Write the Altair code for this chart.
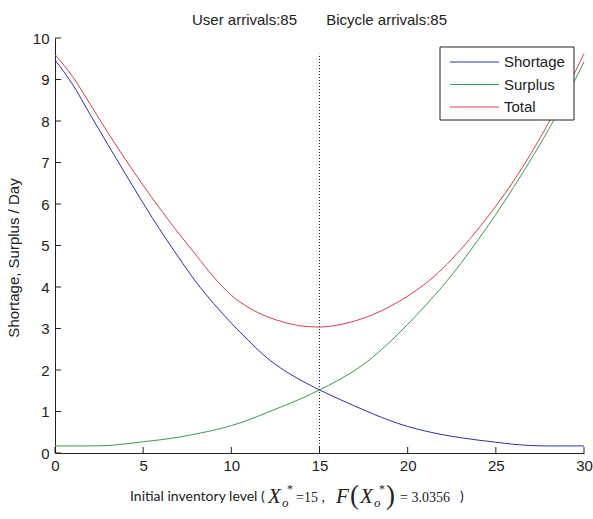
import altair as alt
import pandas as pd

# Initial inventory levels and the resulting daily shortage / surplus
inventory = list(range(31))
shortage = [9.47, 8.88, 8.15, 7.43, 6.72, 6.02, 5.35, 4.72, 4.12, 3.60, 3.13,
            2.70, 2.30, 1.99, 1.74, 1.52, 1.32, 1.13, 0.95, 0.78, 0.64,
            0.53, 0.44, 0.37, 0.31, 0.26, 0.21, 0.18, 0.17, 0.17, 0.17]
surplus = [0.17, 0.17, 0.17, 0.18, 0.22, 0.27, 0.32, 0.38, 0.46, 0.55, 0.66,
           0.80, 0.97, 1.14, 1.32, 1.52, 1.74, 1.99, 2.30, 2.68, 3.10,
           3.55, 4.03, 4.56, 5.14, 5.75, 6.40, 7.08, 7.80, 8.58, 9.43]
optimum_x = 15
optimum_f = 3.0356
total = [9.60, 9.07, 8.40, 7.72, 7.07, 6.45, 5.86, 5.30, 4.77, 4.24, 3.80,
         3.50, 3.29, 3.15, 3.06, optimum_f, 3.08, 3.18, 3.33, 3.53, 3.78,
         4.08, 4.45, 4.90, 5.40, 5.95, 6.55, 7.22, 7.96, 8.76, 9.62]

series_names = ["Shortage", "Surplus", "Total"]
series_colors = ["#2f2fa8", "#3a9a4c", "#d43f4f"]
x_ticks = [0, 5, 10, 15, 20, 25, 30]
y_ticks = list(range(11))
user_arrivals = 85
bicycle_arrivals = 85

LEFT, TOP = 55, 38
W, H = 529, 415
SANS = "Liberation Sans"
SERIF = "Liberation Serif"
INK = "#222222"

rows = []
for name, vals in zip(series_names, [shortage, surplus, total]):
    for lvl, v in zip(inventory, vals):
        rows.append({"level": lvl, "value": v, "series": name})
long = pd.DataFrame(rows)

xs = alt.Scale(domain=[0, 30], nice=False, zero=False)
ys = alt.Scale(domain=[0, 10], nice=False, zero=False)

x_axis = alt.Axis(values=x_ticks, tickSize=0, grid=False, title=None,
                  labelFont=SANS, labelFontSize=15, labelColor=INK,
                  labelPadding=5, labelFlush=False, labelOverlap=False,
                  domainColor=INK, domainWidth=1)
y_axis = alt.Axis(values=y_ticks, tickSize=0, grid=False, title=None,
                  labelFont=SANS, labelFontSize=15, labelColor=INK,
                  labelPadding=6, labelFlush=False, labelOverlap=False,
                  domainColor=INK, domainWidth=1)

lines = alt.Chart(long).mark_line(strokeWidth=1, interpolate="monotone").encode(
    x=alt.X("level:Q", scale=xs, axis=x_axis),
    y=alt.Y("value:Q", scale=ys, axis=y_axis),
    color=alt.Color("series:N",
                    scale=alt.Scale(domain=series_names, range=series_colors),
                    legend=None),
    detail="series:N",
)

# inward-pointing tick marks on both axes
xtick_rules = alt.Chart(pd.DataFrame({"t": x_ticks})).mark_rule(
    color=INK, strokeWidth=1).encode(
    x=alt.X("t:Q", scale=xs, axis=x_axis),
    y=alt.value(H), y2=alt.value(H - 6))
ytick_rules = alt.Chart(pd.DataFrame({"t": y_ticks})).mark_rule(
    color=INK, strokeWidth=1).encode(
    y=alt.Y("t:Q", scale=ys, axis=y_axis),
    x=alt.value(0), x2=alt.value(6))

# dotted marker at the optimal inventory level
opt_rule = alt.Chart(pd.DataFrame({"x": [optimum_x], "y0": [0], "y1": [max(total)]})).mark_rule(
    color=INK, strokeWidth=1, strokeDash=[1, 2]).encode(
    x=alt.X("x:Q", scale=xs, axis=x_axis),
    y=alt.Y("y0:Q", scale=ys, axis=y_axis), y2="y1:Q")

one = pd.DataFrame({"k": [0]})


def label(text, px, py, font=SANS, size=15, style="normal", angle=0,
          align="left", color=INK):
    return alt.Chart(one).mark_text(
        text=text, font=font, fontSize=size, fontStyle=style, color=color,
        align=align, baseline="middle", angle=angle,
    ).encode(x=alt.value(px - LEFT), y=alt.value(py - TOP))


# boxed legend in the upper right corner (opaque, drawn over the curves)
legend_box = alt.Chart(one).mark_rect(
    fill="white", stroke=INK, strokeWidth=1).encode(
    x=alt.value(440 - LEFT), x2=alt.value(574 - LEFT),
    y=alt.value(47 - TOP), y2=alt.value(120 - TOP))
legend_parts = [legend_box]
for i, (name, color) in enumerate(zip(series_names, series_colors)):
    ry = 62 + 22.5 * i
    legend_parts.append(
        alt.Chart(one).mark_rule(color=color, strokeWidth=1).encode(
            x=alt.value(450 - LEFT), x2=alt.value(499 - LEFT),
            y=alt.value(ry - TOP)))
    legend_parts.append(label(name, 504, ry))

y_title = label("Shortage, Surplus / Day", 14, 258, angle=270, align="center")

xlab_y = 497
x_title = [
    label("Initial inventory level (", 130, xlab_y, font="Lato", size=14),
    label("X", 268, xlab_y, font=SERIF, size=21, style="italic"),
    label("o", 282, xlab_y + 6, font=SERIF, size=13, style="italic"),
    label("*", 287, xlab_y - 8, font=SERIF, size=12),
    label(f"={optimum_x} ,", 296, xlab_y + 1, font=SERIF, size=14),
    label("F", 336, xlab_y, font=SERIF, size=21, style="italic"),
    label("(", 350, xlab_y - 1, font=SERIF, size=27),
    label("X", 360, xlab_y, font=SERIF, size=21, style="italic"),
    label("o", 374, xlab_y + 6, font=SERIF, size=13, style="italic"),
    label("*", 379, xlab_y - 8, font=SERIF, size=12),
    label(")", 386, xlab_y - 1, font=SERIF, size=27),
    label(f"= {optimum_f}", 400, xlab_y + 1, font=SERIF, size=14),
    label(")", 460, xlab_y, font="Lato", size=14),
]

gap = "\u00a0" * 7
chart = alt.layer(
    opt_rule, lines, xtick_rules, ytick_rules, *legend_parts, y_title, *x_title
).properties(
    width=W, height=H,
    autosize=alt.AutoSizeParams(type="none"),
    padding={"left": LEFT, "top": TOP, "right": 593 - LEFT - W, "bottom": 519 - TOP - H},
    title=alt.TitleParams(
        f"User arrivals:{user_arrivals}{gap}Bicycle arrivals:{bicycle_arrivals}",
        font=SANS, fontSize=15, fontWeight="normal", color=INK,
        anchor="middle", offset=3,
    ),
    background="white",
).configure_view(stroke=None)

chart.save("out.html", embed_options={"renderer": "svg", "actions": False})
